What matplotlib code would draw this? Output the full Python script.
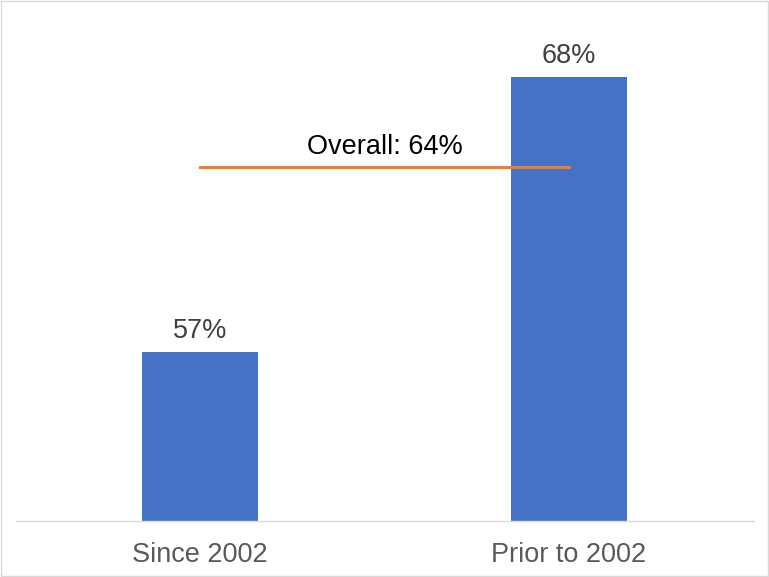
import matplotlib.pyplot as plt
from matplotlib.patches import Rectangle

categories = ["Since 2002", "Prior to 2002"]
values = [57, 68]
overall = 64.4
overall_label = "Overall: 64%"

plt.rcParams['font.family'] = ['Liberation Sans', 'DejaVu Sans']

fig = plt.figure(figsize=(7.69, 5.77), dpi=100)
ax = fig.add_axes([0.0202, 0.097, 0.9597, 0.856])

x = list(range(len(categories)))
ax.bar(x, values, width=0.314, color='#4472C4', zorder=2)

for xi, v in zip(x, values):
    ax.annotate(f"{v}%", (xi, v), xytext=(0, 6), textcoords='offset points',
                ha='center', va='bottom', fontsize=19.5, color='#404040')

# overall line from first bar centre to second bar centre
ax.plot([x[0], x[-1]], [overall, overall], color='#ED7D31', linewidth=2.2, zorder=3)
ax.annotate(overall_label, ((x[0] + x[-1]) / 2, overall), xytext=(0, 5),
            textcoords='offset points', ha='center', va='bottom',
            fontsize=19.5, color='black')

ax.set_xlim(-0.5, len(categories) - 0.5)
ax.set_ylim(50.24, 70)
ax.set_xticks(x)
ax.set_xticklabels(categories, fontsize=19.5, color='#595959')
ax.tick_params(axis='x', length=0, pad=15)
ax.set_yticks([])

for side in ['top', 'left', 'right']:
    ax.spines[side].set_visible(False)
ax.spines['bottom'].set_color('#D9D9D9')
ax.spines['bottom'].set_linewidth(1.0)

# light border around the whole picture
fig.patches.append(Rectangle((0.001, 0.001), 0.998, 0.997, transform=fig.transFigure,
                             fill=False, edgecolor='#D9D9D9', linewidth=1.0))

fig.savefig("out.png", dpi=100)
plt.close(fig)
